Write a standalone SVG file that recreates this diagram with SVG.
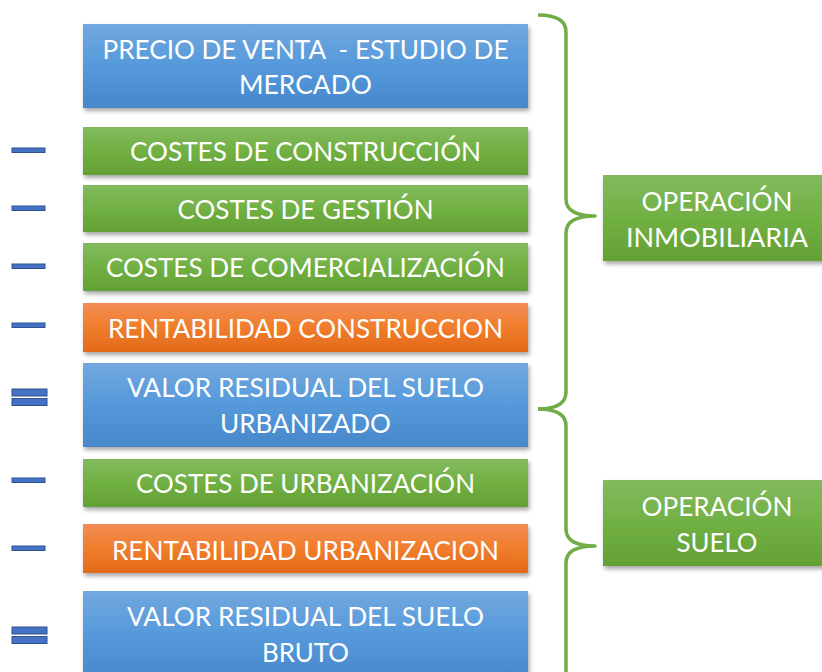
<svg xmlns="http://www.w3.org/2000/svg" width="822" height="672" viewBox="0 0 822 672">
<defs>
<linearGradient id="gBlue" x1="0" y1="0" x2="0" y2="1"><stop offset="0" stop-color="#72A8DE"/><stop offset="0.5" stop-color="#5599DB"/><stop offset="1" stop-color="#4787CA"/></linearGradient>
<linearGradient id="gGreen" x1="0" y1="0" x2="0" y2="1"><stop offset="0" stop-color="#83BA5F"/><stop offset="0.5" stop-color="#71B043"/><stop offset="1" stop-color="#63A035"/></linearGradient>
<linearGradient id="gOrange" x1="0" y1="0" x2="0" y2="1"><stop offset="0" stop-color="#F38D55"/><stop offset="0.5" stop-color="#F07D2C"/><stop offset="1" stop-color="#E26A19"/></linearGradient>
<filter id="sh" x="-5%" y="-20%" width="115%" height="150%"><feDropShadow dx="1.5" dy="3" stdDeviation="2" flood-color="#000" flood-opacity="0.35"/></filter>
</defs>
<style>
.b{fill:url(#gBlue);filter:url(#sh)}
.g{fill:url(#gGreen);filter:url(#sh)}
.o{fill:url(#gOrange);filter:url(#sh)}
.t{font-family:Lato,"Liberation Sans",sans-serif;font-size:26.5px;fill:#fff;text-anchor:middle;white-space:pre}
.op{fill:#4472C4;stroke:#2F528F;stroke-width:1}
.br{fill:none;stroke:#70AD47;stroke-width:3.5;stroke-linejoin:round}
</style>
<g id="signs">
<rect class="op" x="12" y="148" width="33" height="4.5"/>
<rect class="op" x="12" y="206" width="33" height="4.5"/>
<rect class="op" x="12" y="264" width="33" height="4.5"/>
<rect class="op" x="12" y="323" width="33" height="4.5"/>
<rect class="op" x="12" y="389" width="35" height="7"/>
<rect class="op" x="12" y="398.5" width="35" height="7"/>
<rect class="op" x="12" y="478" width="33" height="4.5"/>
<rect class="op" x="12" y="546" width="33" height="4.5"/>
<rect class="op" x="12" y="627" width="35" height="7"/>
<rect class="op" x="12" y="636.5" width="35" height="7"/>
</g>
<g id="n1"><rect class="b" x="83" y="24" width="445" height="84"/><text class="t" x="305.5" y="59" textLength="406" lengthAdjust="spacingAndGlyphs">PRECIO DE VENTA  - ESTUDIO DE</text><text class="t" x="305.5" y="94" textLength="133" lengthAdjust="spacingAndGlyphs">MERCADO</text></g>
<g id="n2"><rect class="g" x="83" y="127" width="445" height="48"/><text class="t" x="305.5" y="161" textLength="351" lengthAdjust="spacingAndGlyphs">COSTES DE CONSTRUCCIÓN</text></g>
<g id="n3"><rect class="g" x="83" y="185" width="445" height="47"/><text class="t" x="305.5" y="218.5" textLength="256" lengthAdjust="spacingAndGlyphs">COSTES DE GESTIÓN</text></g>
<g id="n4"><rect class="g" x="83" y="243" width="445" height="48"/><text class="t" x="305.5" y="277" textLength="399" lengthAdjust="spacingAndGlyphs">COSTES DE COMERCIALIZACIÓN</text></g>
<g id="n5"><rect class="o" x="83" y="303" width="445" height="49"/><text class="t" x="305.5" y="337.5" textLength="395" lengthAdjust="spacingAndGlyphs">RENTABILIDAD CONSTRUCCION</text></g>
<g id="n6"><rect class="b" x="83" y="363" width="445" height="84"/><text class="t" x="305.5" y="397" textLength="357" lengthAdjust="spacingAndGlyphs">VALOR RESIDUAL DEL SUELO</text><text class="t" x="305.5" y="432.5" textLength="171" lengthAdjust="spacingAndGlyphs">URBANIZADO</text></g>
<g id="n7"><rect class="g" x="83" y="459" width="445" height="48"/><text class="t" x="305.5" y="492.5" textLength="339" lengthAdjust="spacingAndGlyphs">COSTES DE URBANIZACIÓN</text></g>
<g id="n8"><rect class="o" x="83" y="524" width="445" height="49"/><text class="t" x="305.5" y="559.5" textLength="387" lengthAdjust="spacingAndGlyphs">RENTABILIDAD URBANIZACION</text></g>
<g id="n9"><rect class="b" x="83" y="591" width="445" height="90"/><text class="t" x="305.5" y="625.5" textLength="357" lengthAdjust="spacingAndGlyphs">VALOR RESIDUAL DEL SUELO</text><text class="t" x="305.5" y="661.5" textLength="87" lengthAdjust="spacingAndGlyphs">BRUTO</text></g>
<g id="op1"><rect class="g" x="603" y="175" width="230" height="86"/><text class="t" x="717" y="210.5" textLength="151" lengthAdjust="spacingAndGlyphs">OPERACIÓN</text><text class="t" x="717" y="246.5" textLength="182" lengthAdjust="spacingAndGlyphs">INMOBILIARIA</text></g>
<g id="op2"><rect class="g" x="603" y="480" width="230" height="86"/><text class="t" x="717" y="515.5" textLength="151" lengthAdjust="spacingAndGlyphs">OPERACIÓN</text><text class="t" x="717" y="551.5" textLength="81" lengthAdjust="spacingAndGlyphs">SUELO</text></g>
<g id="connectors">
<path class="br" d="M538,15 Q566,15 566,32 L566,199 Q566,216 595,216 Q566,216 566,233 L566,392 Q566,409 538,409"/>
<path class="br" d="M538,409 Q566,409 566,426 L566,529 Q566,546 595,546 Q566,546 566,563 L566,690"/>
</g>
</svg>
